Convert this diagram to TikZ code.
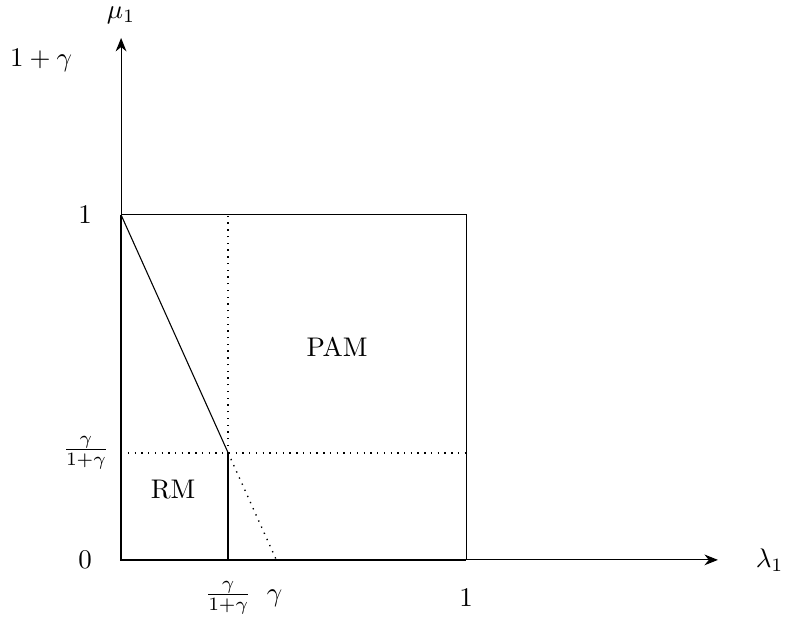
\documentclass[tikz,border=0pt]{standalone}
\usetikzlibrary{arrows.meta}
\begin{document}
\begin{tikzpicture}[x=4.5cm,y=4.5cm,
  axis/.style={-{Stealth[length=5pt,width=4pt]},line width=0.4pt},
  bold/.style={line width=0.8pt},
  thin/.style={line width=0.4pt},
  dotline/.style={dotted,line width=0.5pt},
  lab/.style={inner sep=0pt}]
\useasboundingbox (-0.351,-0.171) rectangle (1.994,1.623);
\pgfmathsetmacro{\g}{0.45}
\pgfmathsetmacro{\a}{0.45/1.45}
\coordinate (O) at (0,0);
\coordinate (X1) at (1,0);
\coordinate (Y1) at (0,1);
\coordinate (C) at (1,1);
\coordinate (Xend) at (1.73,0);
\coordinate (Yend) at (0,1.513);
\coordinate (A) at (\a,\a);
\coordinate (Ax) at (\a,0);
\coordinate (Ay) at (0,\a);
\coordinate (Atop) at (\a,1);
\coordinate (Ar) at (1,\a);
\coordinate (G) at (\g,0);
% axes
\draw[axis] (X1) -- (Xend);
\draw[axis] (Y1) -- (Yend);
\draw[bold] (Y1) -- (O) -- (X1);
% box
\draw[thin] (Y1) -- (C) -- (X1);
% regions
\draw[thin] (Y1) -- (A);
\draw[line width=0.55pt] (A) -- (Ax);
\draw[dotline] (A) -- (Atop);
\draw[dotline] (Ay) -- (Ar);
\draw[dotline] (A) -- (G);
% labels
\node[lab] (mu) at (0,1.58) {$\mu_1$};
\node[lab] (lam) at (1.88,0) {$\lambda_1$};
\node[lab] (l1g) at (-0.232,1.449) {$1+\gamma$};
\node[lab] (ly1) at (-0.104,1) {$1$};
\node[lab] (lya) at (-0.102,\a) {$\frac{\gamma}{1+\gamma}$};
\node[lab] (ly0) at (-0.104,0) {$0$};
\node[lab] (lxa) at (\a,-0.11) {$\frac{\gamma}{1+\gamma}$};
\node[lab] (lxg) at (0.445,-0.11) {$\gamma$};
\node[lab] (lx1) at (1,-0.11) {$1$};
\node[lab] (pam) at (0.626,0.617) {PAM};
\node[lab] (rm) at (0.151,0.203) {RM};
\end{tikzpicture}
\end{document}
